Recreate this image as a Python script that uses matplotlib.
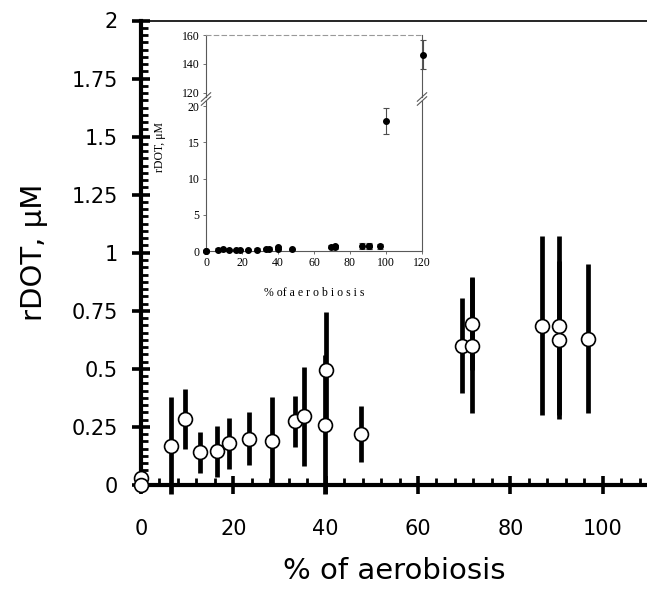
import numpy as np
import matplotlib
matplotlib.use('Agg')
from matplotlib import pyplot as plt
from matplotlib.ticker import MultipleLocator

# main panel: % of aerobiosis vs rDOT (uM), symmetric error bars
aero = [0, 0, 6.5, 9.6, 12.8, 16.5, 19.1, 23.4, 28.3, 33.3, 35.2, 40.0, 39.8,
        47.6, 69.5, 71.6, 71.6, 86.9, 90.5, 90.5, 96.9]
rdot = [0.03, 0.0, 0.17, 0.285, 0.14, 0.145, 0.18, 0.2, 0.19, 0.275, 0.295,
        0.495, 0.26, 0.22, 0.60, 0.695, 0.60, 0.685, 0.685, 0.625, 0.63]
rdot_err = [0.01, 0.0, 0.21, 0.13, 0.09, 0.11, 0.11, 0.115, 0.19, 0.11, 0.215,
            0.25, 0.3, 0.12, 0.205, 0.2, 0.29, 0.385, 0.385, 0.34, 0.32]

# extra points that only appear in the inset
aero_hi = [100.2, 120.4]
rdot_hi = [18.0, 146.5]
rdot_hi_err = [1.8, 10.0]

main_font = 'DejaVu Sans'
inset_font = 'Liberation Serif'

fig = plt.figure(figsize=(6.47, 5.89), dpi=100)
ax = fig.add_axes([141/647, (589-485)/589, 506/647, 464.5/589])

ax.errorbar(aero, rdot, yerr=rdot_err, fmt='o', color='black', ecolor='black',
            elinewidth=3.4, capsize=0, markersize=10, markerfacecolor='white',
            markeredgecolor='black', markeredgewidth=1.2, clip_on=False, zorder=3)

ax.set_xlim(0, 109.6)
ax.set_ylim(0, 2)
ax.xaxis.set_major_locator(MultipleLocator(20))
ax.xaxis.set_minor_locator(MultipleLocator(4))
ax.yaxis.set_minor_locator(MultipleLocator(0.03125))
ax.set_yticks([0, 0.25, 0.5, 0.75, 1, 1.25, 1.5, 1.75, 2])
ax.set_yticklabels(['0', '0.25', '0.5', '0.75', '1', '1.25', '1.5', '1.75', '2'])

ax.tick_params(which='major', direction='inout', length=13, width=2.6,
               labelsize=15)
ax.tick_params(which='minor', direction='in', length=5, width=2)
ax.tick_params(axis='x', which='major', pad=18)
ax.tick_params(axis='y', which='major', pad=10)
for lab in ax.get_xticklabels() + ax.get_yticklabels():
    lab.set_family(main_font)

ax.spines['left'].set_linewidth(3)
ax.spines['bottom'].set_linewidth(3)
ax.spines['top'].set_linewidth(1.2)
ax.spines['right'].set_visible(False)
ax.tick_params(top=False, right=False)

ax.set_xlabel('% of aerobiosis', fontdict={'color': 'black', 'size': 21, 'family': main_font}, labelpad=13)
ax.set_ylabel('rDOT, μM', fontdict={'color': 'black', 'size': 21, 'family': main_font}, labelpad=17)

# inset with broken y axis
gray = '0.35'
ax_lo = fig.add_axes([206/647, (589-251)/589, 216/647, 150/589])
ax_up = fig.add_axes([206/647, (589-97)/589, 216/647, 62/589])

all_x = aero + aero_hi
all_y = rdot + rdot_hi
all_e = rdot_err + rdot_hi_err
lo_idx = [i for i in range(len(all_y)) if all_y[i] < 50]
up_idx = [i for i in range(len(all_y)) if all_y[i] >= 50]
for a, idx in ((ax_lo, lo_idx), (ax_up, up_idx)):
    a.errorbar([all_x[i] for i in idx], [all_y[i] for i in idx],
               yerr=[all_e[i] for i in idx], fmt='o', color='black', ecolor='0.3',
               elinewidth=0.8, capsize=2, capthick=0.8, markersize=4,
               clip_on=False, zorder=3)
    a.set_xlim(0, 120)
    for s in a.spines.values():
        s.set_color(gray)
        s.set_linewidth(0.8)
    a.tick_params(direction='out', length=2.5, width=0.6, color=gray,
                  labelsize=8.5, pad=2)

ax_lo.set_ylim(0, 20.7)
ax_lo.set_yticks([0, 5, 10, 15, 20])
ax_lo.set_xticks([0, 20, 40, 60, 80, 100, 120])
ax_lo.spines['top'].set_visible(False)
ax_lo.set_xlabel('% of a e r o b i o s i s', fontdict={'size': 8.5, 'family': inset_font}, labelpad=13)

ax_up.set_ylim(117.2, 160)
ax_up.set_yticks([120, 140, 160])
ax_up.spines['bottom'].set_visible(False)
ax_up.spines['top'].set_linestyle((0, (4, 3)))
ax_up.spines['top'].set_color('0.6')
ax_up.tick_params(bottom=False, labelbottom=False)

for a in (ax_lo, ax_up):
    for lab in a.get_xticklabels() + a.get_yticklabels():
        lab.set_family(inset_font)

# break marks
d = 0.012
kw = dict(transform=fig.transFigure, color=gray, lw=0.8, clip_on=False)
for xf in (206/647, 422/647):
    for yf in ((589-97)/589, (589-101)/589):
        fig.add_artist(plt.Line2D([xf - d*0.6, xf + d*0.6], [yf - d*0.6, yf + d*0.6], **kw))

fig.text(160/647, (589-147)/589, 'rDOT, μM', rotation=90, ha='center', va='center',
         fontsize=8.5, family=inset_font)

plt.savefig('out.png', dpi=100)
